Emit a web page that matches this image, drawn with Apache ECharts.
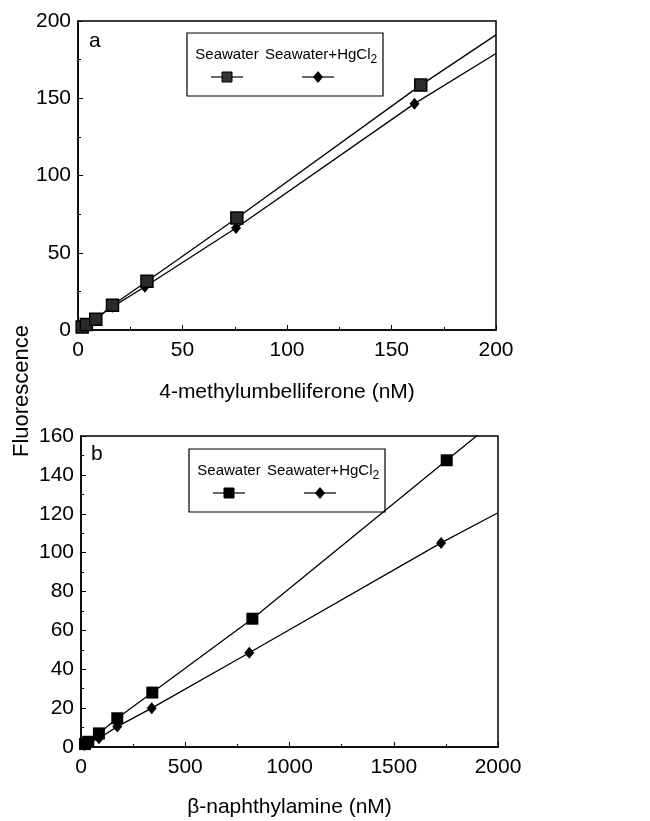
<!DOCTYPE html>
<html><head><meta charset="utf-8">
<script src="https://cdn.jsdelivr.net/npm/echarts@6/dist/echarts.min.js"></script>
<style>html,body{margin:0;padding:0;background:#fff}#c{width:650px;height:821px}</style>
</head><body><div id="c"></div>
<script>
// Panel a: 4-methylumbelliferone
const seaA = [[2,2],[4,3.5],[8.5,7],[16.5,16],[33,31.5],[76,72.5],[164,158.5]];
const hgA  = [[2,2],[4,3],[8,7],[16.5,15],[32,28],[75.6,66],[161,146.5]];
const seaAEnd = [200,191];
const hgAEnd  = [200,179];
// Panel b: beta-naphthylamine
const seaB = [[19,1.5],[35,2.7],[86,7],[174,14.8],[342,28],[822,66],[1754,147.5]];
const hgB  = [[17,1],[35,2],[86,4.5],[174,10.5],[339,20],[807,48.5],[1727,105]];
const seaBEnd = [2000,169];
const hgBEnd  = [2000,120.5];

const xTicksA = [0,50,100,150,200];
const yTicksA = [0,50,100,150,200];
const xTicksB = [0,500,1000,1500,2000];
const yTicksB = [0,20,40,60,80,100,120,140,160];

const FONT = '"Liberation Sans",Arial,Helvetica,sans-serif';
const chart = echarts.init(document.getElementById('c'));

function axis(type, ticks, gi, name, nameGap, minorN){
  return {
    type:'value', gridIndex:gi, min:ticks[0], max:ticks[ticks.length-1],
    interval:ticks[1]-ticks[0],
    name:name, nameLocation:'middle', nameGap:nameGap,
    nameTextStyle:{fontFamily:FONT, fontSize:21, color:'#000'},
    axisLine:{show:true, onZero:false, lineStyle:{color:'#000', width:1.5}},
    axisTick:{show:true, inside:true, length:5, lineStyle:{color:'#000', width:1}},
    minorTick:{show:true, splitNumber:minorN, length:3, lineStyle:{color:'#000', width:1}},
    splitLine:{show:false},
    axisLabel:{fontFamily:FONT, fontSize:21, color:'#000', margin: type==='x'?10:7, formatter:v=>String(v)}
  };
}
function withEnd(pts, end){ return pts.map(p=>({value:p})).concat([{value:end, symbol:'none'}]); }

const sqStyle = {color:'#2a2a2a', borderColor:'#000', borderWidth:1.5};
const dmStyle = {color:'#000'};
const lineSt = {color:'#000', width:1.3};

function legend(x,y,grey){
  return {type:'group', x:x, y:y, children:[
    {type:'rect', shape:{x:0,y:0,width:196,height:63}, style:{fill:'#fff', stroke:'#000', lineWidth:1.2}},
    {type:'text', x:40, y:22, style:{text:'Seawater', font:'15px '+FONT, fill:'#000', align:'center', verticalAlign:'middle'}},
    {type:'text', x:78, y:22, style:{text:'{n|Seawater+HgCl}{s|2}', align:'left', verticalAlign:'middle',
      rich:{n:{fontFamily:FONT, fontSize:15, color:'#000'}, s:{fontFamily:FONT, fontSize:12, color:'#000', padding:[9,0,0,0]}}}},
    {type:'line', shape:{x1:24,y1:44,x2:56,y2:44}, style:{stroke:'#000', lineWidth:1.2}},
    {type:'rect', shape:{x:35,y:39,width:10,height:10}, style:{fill: grey?'#333':'#000', stroke:'#000', lineWidth:1}},
    {type:'line', shape:{x1:115,y1:44,x2:147,y2:44}, style:{stroke:'#000', lineWidth:1.2}},
    {type:'polygon', shape:{points:[[131,38],[136,44],[131,50],[126,44]]}, style:{fill:'#000'}}
  ]};
}

chart.setOption({
  animation:false,
  backgroundColor:'#fff',
  grid:[
    {left:78, top:21, width:418, height:309, show:true, borderColor:'#000', borderWidth:1.5, backgroundColor:'transparent'},
    {left:81, top:436, width:417, height:311, show:true, borderColor:'#000', borderWidth:1.5, backgroundColor:'transparent'}
  ],
  xAxis:[ axis('x', xTicksA, 0, '4-methylumbelliferone (nM)', 52, 2),
          axis('x', xTicksB, 1, 'β-naphthylamine (nM)', 50, 2) ],
  yAxis:[ axis('y', yTicksA, 0, '', 0, 2),
          axis('y', yTicksB, 1, '', 0, 2) ],
  series:[
    {type:'line', xAxisIndex:0, yAxisIndex:0, data:withEnd(hgA,hgAEnd), symbol:'diamond', symbolSize:[10,12], itemStyle:dmStyle, lineStyle:lineSt},
    {type:'line', xAxisIndex:0, yAxisIndex:0, data:withEnd(seaA,seaAEnd), symbol:'rect', symbolSize:12, itemStyle:sqStyle, lineStyle:lineSt},
    {type:'line', xAxisIndex:1, yAxisIndex:1, data:withEnd(hgB,hgBEnd), symbol:'diamond', symbolSize:[10,12], itemStyle:dmStyle, lineStyle:lineSt},
    {type:'line', xAxisIndex:1, yAxisIndex:1, data:withEnd(seaB,seaBEnd), symbol:'rect', symbolSize:12, itemStyle:{color:'#000'}, lineStyle:lineSt}
  ],
  graphic:[
    {type:'text', x:22, y:391, rotation:Math.PI/2, style:{text:'Fluorescence', font:'22px '+FONT, fill:'#000', align:'center', verticalAlign:'middle'}},
    {type:'text', x:89, y:31, style:{text:'a', font:'21px '+FONT, fill:'#000'}},
    {type:'text', x:91, y:444, style:{text:'b', font:'21px '+FONT, fill:'#000'}},
    legend(187,33,true),
    legend(189,449,false)
  ]
});
</script></body></html>
